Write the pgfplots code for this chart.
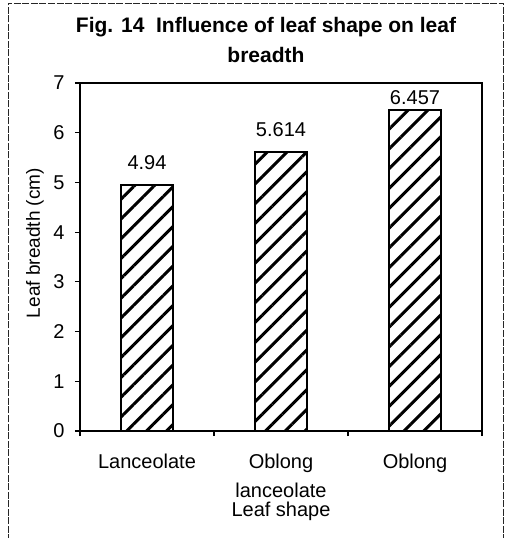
\documentclass[border=0pt]{standalone}
\usepackage{fontspec}
\setmainfont{Liberation Sans}
\usepackage{pgfplots}
\pgfplotsset{compat=1.18}
\usetikzlibrary{patterns.meta}

\begin{document}
\begin{tikzpicture}
\useasboundingbox (-80pt,-107pt) rectangle (426pt,431pt);
% scanned frame round the chart
\draw[black!85, line width=0.8pt, dash pattern=on 7pt off 1.5pt]
    (-72pt,-110pt) -- (-72pt,428pt) -- (423pt,428pt) -- (423pt,-110pt);
\begin{axis}[
    at={(0,0)}, anchor=south west,
    scale only axis,
    width=402pt, height=348pt,
    xmin=-0.5, xmax=2.5,
    ymin=0, ymax=7,
    ytick={0,1,...,7},
    xtick={-0.5,0.5,1.5,2.5},
    xticklabels={},
    extra x ticks={0,1,2},
    extra x tick labels={Lanceolate,{Oblong\\lanceolate},Oblong},
    extra x tick style={major tick length=0pt,
        xticklabel style={align=center, anchor=north, yshift=-19pt}},
    xtick pos=bottom, ytick pos=left,
    tick align=outside,
    major tick length=5pt,
    axis line style={line width=2pt},
    every tick/.style={black, line width=1.2pt},
    font=\fontsize{20}{29}\selectfont,
    /pgf/number format/assume math mode=true,
    yticklabel style={xshift=-7pt},
    ylabel={Leaf breadth (cm)},
    ylabel style={at={(axis description cs:-0.112,0.54)}, anchor=center, font=\fontsize{19}{20}\selectfont},
    xlabel={Leaf shape},
    xlabel style={at={(axis description cs:0.5,0)}, anchor=base, yshift=-85pt},
    nodes near coords,
    point meta=explicit symbolic,
    every node near coord/.append style={font=\fontsize{20}{20}\selectfont, anchor=south},
    clip=false,
]
\addplot[ybar, bar width=52pt, bar shift=0pt, draw=black, line width=2pt,
    pattern={Lines[angle=45, distance=14pt, line width=3pt]}, pattern color=black,
    every node near coord/.append style={yshift=11pt}]
    coordinates {(0,4.94) [4.94] (1,5.614) [5.614]};
\addplot[ybar, bar width=52pt, bar shift=0pt, draw=black, line width=2pt,
    pattern={Lines[angle=45, distance=14pt, line width=3pt]}, pattern color=black,
    every node near coord/.append style={yshift=1pt}]
    coordinates {(2,6.457) [6.457]};
\end{axis}
\node[font=\bfseries\fontsize{21}{30}\selectfont, align=center, anchor=base] at (186pt,368pt)
    {Fig. 14\ \ Influence of leaf shape on leaf\\breadth};
\end{tikzpicture}
\end{document}
